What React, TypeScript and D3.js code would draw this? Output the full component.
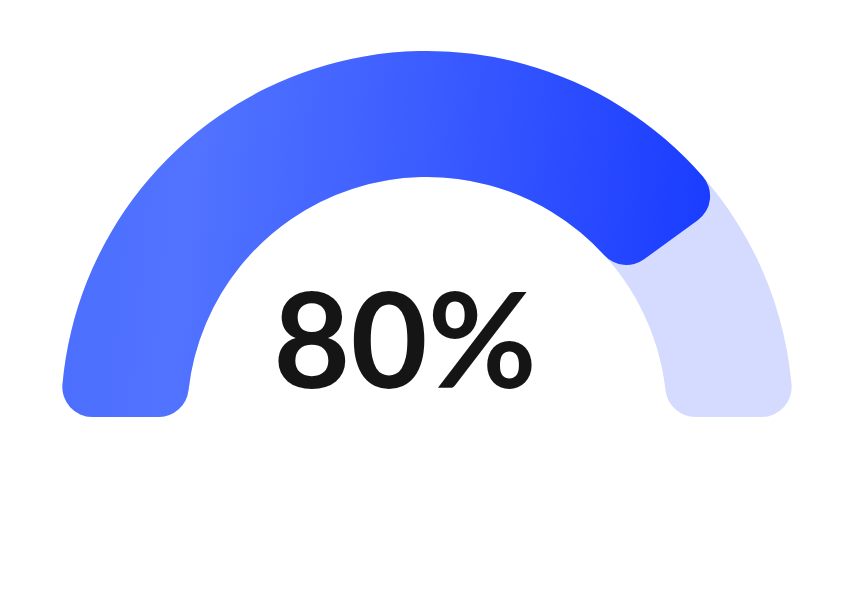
import React, { useRef, useEffect } from 'react';
import * as d3 from 'd3';

const gaugeValue = [80];
const gaugeRange = [0, 100];
const valueLabels = ['80%'];

const Gauge: React.FC = () => {
    const svgRef = useRef<SVGSVGElement | null>(null);

    useEffect(() => {
        const svg = d3.select(svgRef.current);
        svg.selectAll('*').remove();

        const cx = 427;
        const cy = 417;
        const outer = 366;
        const inner = 240;

        const angle = d3
            .scaleLinear()
            .domain(gaugeRange)
            .range([-Math.PI / 2, Math.PI / 2]);

        const arc = d3
            .arc<any>()
            .innerRadius(inner)
            .outerRadius(outer)
            .cornerRadius(30);

        // gradient in page coordinates
        const defs = svg.append('defs');
        const grad = defs
            .append('linearGradient')
            .attr('id', 'gaugeGrad')
            .attr('gradientUnits', 'userSpaceOnUse')
            .attr('x1', 60)
            .attr('y1', 200)
            .attr('x2', 710)
            .attr('y2', 260);
        grad.append('stop').attr('offset', 0).attr('stop-color', '#4c6efe');
        grad.append('stop').attr('offset', 0.2).attr('stop-color', '#5173ff');
        grad.append('stop').attr('offset', 0.55).attr('stop-color', '#3b5cff');
        grad.append('stop').attr('offset', 1).attr('stop-color', '#1a3cff');

        svg.append('path')
            .attr('d', arc({ startAngle: angle(gaugeRange[0]), endAngle: angle(gaugeRange[1]) }) as string)
            .attr('transform', `translate(${cx},${cy})`)
            .attr('fill', '#d4dbfe');

        const valuePath = arc({ startAngle: angle(gaugeRange[0]), endAngle: angle(gaugeValue[0]) }) as string;

        svg.append('clipPath')
            .attr('id', 'valueClip')
            .append('path')
            .attr('d', valuePath)
            .attr('transform', `translate(${cx},${cy})`);

        svg.append('rect')
            .attr('x', 0)
            .attr('y', 0)
            .attr('width', 857)
            .attr('height', 601)
            .attr('clip-path', 'url(#valueClip)')
            .attr('fill', 'url(#gaugeGrad)');

        svg.append('text')
            .attr('x', 405)
            .attr('y', 388)
            .attr('text-anchor', 'middle')
            .attr('font-family', 'Lato, sans-serif')
            .attr('font-weight', 700)
            .attr('font-size', 133)
            .attr('fill', '#151515')
            .text(valueLabels[0]);
    }, []);

    return (
        <svg
            ref={svgRef}
            width="857"
            height="601"
            style={{ position: 'absolute', left: 0, top: 0, display: 'block', background: '#fff' }}
        />
    );
};

export default function App() {
    return <Gauge />;
}
